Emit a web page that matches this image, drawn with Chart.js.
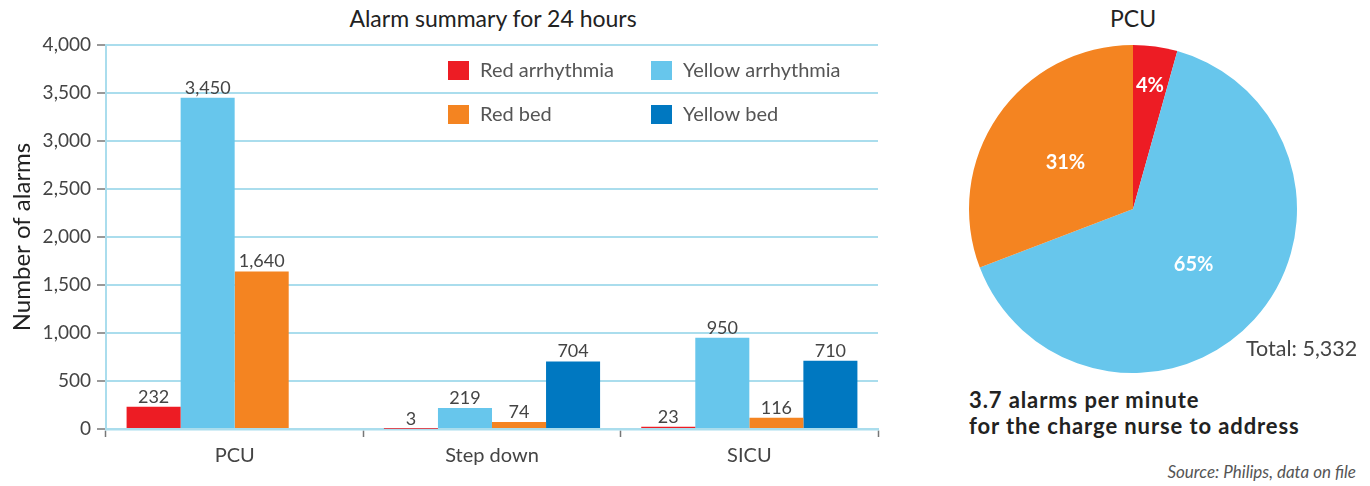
<!DOCTYPE html>
<html>
<head>
<meta charset="utf-8">
<script src="https://cdn.jsdelivr.net/npm/chart.js@4/dist/chart.umd.min.js"></script>
<style>
  body { margin: 0; background: #fff; font-family: Lato, "Open Sans", sans-serif; }
  .wrap { position: relative; width: 1370px; height: 486px; overflow: hidden; }
  .abs { position: absolute; white-space: nowrap; }
  #barBox { left: 0; top: 0; width: 900px; height: 486px; }
  #pieBox { left: 963px; top: 39px; width: 340px; height: 340px; }
  .title { font-size: 23px; color: #222; transform: translate(-50%, -50%); }
  .note { font-size: 22px; color: #222; font-weight: 700; letter-spacing: 0.9px; line-height: 26px; }
</style>
</head>
<body>
<div class="wrap">
  <div class="abs title" style="left:493px; top:18px;">Alarm summary for 24 hours</div>
  <div class="abs title" style="left:1133px; top:18px;">PCU</div>
  <div class="abs" id="barBox"><canvas id="bars"></canvas></div>
  <div class="abs" id="pieBox"><canvas id="pie"></canvas></div>
  <div class="abs" style="left:1246px; top:335px; font-size:21.5px; color:#444;">Total: 5,332</div>
  <div class="abs note" style="left:969px; top:387px;">3.7 alarms per minute<br>for the charge nurse to address</div>
  <div class="abs" style="right:14px; top:461px; font-size:17px; color:#555; font-style:italic;">Source: Philips, data on file</div>
</div>
<script>
const units = ['PCU', 'Step down', 'SICU'];
const seriesNames = ['Red arrhythmia', 'Yellow arrhythmia', 'Red bed', 'Yellow bed'];
const redArrhythmia = [232, 3, 23];
const yellowArrhythmia = [3450, 219, 950];
const redBed = [1640, 74, 116];
const yellowBed = [0, 704, 710];
const yTicks = [0, 500, 1000, 1500, 2000, 2500, 3000, 3500, 4000];
const seriesColors = ['#ED1C24', '#67C6EC', '#F48421', '#0078C1'];

// PCU breakdown for the pie (yellow bed is 0 there)
const pieValues = [redArrhythmia[0], yellowArrhythmia[0], redBed[0]];
const pieColors = seriesColors.slice(0, 3);

const fontFamily = 'Lato, "Open Sans", sans-serif';
const gridBlue = '#AADDED';
const tickGray = '#777';
const textGray = '#444';

const valueLabels = {
  id: 'valueLabels',
  afterDatasetsDraw(chart) {
    const {ctx} = chart;
    ctx.save();
    ctx.font = `18px ${fontFamily}`;
    ctx.fillStyle = textGray;
    ctx.textAlign = 'center';
    ctx.textBaseline = 'bottom';
    chart.data.datasets.forEach((ds, i) => {
      chart.getDatasetMeta(i).data.forEach((bar, j) => {
        const v = ds.data[j];
        if (!v) return;
        ctx.fillText(v.toLocaleString('en-US'), bar.x, bar.y - 1);
      });
    });
    ctx.restore();
  }
};

const boxLegend = {
  id: 'boxLegend',
  afterDraw(chart) {
    const {ctx} = chart;
    const colX = [448, 651];
    const rowY = [61, 105];
    ctx.save();
    ctx.font = `20px ${fontFamily}`;
    ctx.textBaseline = 'middle';
    chart.data.datasets.forEach((ds, i) => {
      const x = colX[i % 2];
      const y = rowY[Math.floor(i / 2)];
      ctx.fillStyle = ds.backgroundColor;
      ctx.fillRect(x, y, 21, 19);
      ctx.fillStyle = '#555';
      ctx.fillText(ds.label, x + 32, y + 10);
    });
    ctx.restore();
  }
};

new Chart(document.getElementById('bars'), {
  type: 'bar',
  data: {
    labels: units,
    datasets: [redArrhythmia, yellowArrhythmia, redBed, yellowBed].map((data, i) => ({
      label: seriesNames[i],
      data,
      backgroundColor: seriesColors[i],
      categoryPercentage: 0.84,
      barPercentage: 1,
    })),
  },
  options: {
    responsive: true,
    maintainAspectRatio: false,
    animation: false,
    layout: {padding: {top: 45, right: 22, bottom: 0, left: 0}},
    plugins: {legend: {display: false}, tooltip: {enabled: false}},
    scales: {
      x: {
        afterFit: scale => { scale.height = 57; },
        grid: {drawOnChartArea: false, offset: true, tickLength: 8, tickColor: tickGray, tickWidth: 1.5},
        border: {color: gridBlue, width: 2.5},
        ticks: {color: textGray, padding: 7, font: {family: fontFamily, size: 20}},
      },
      y: {
        min: 0,
        max: 4000,
        afterFit: scale => { scale.width = 106; },
        afterBuildTicks: scale => { scale.ticks = yTicks.map(value => ({value})); },
        grid: {color: gridBlue, lineWidth: 2, tickLength: 9, tickColor: tickGray, tickWidth: 1.5},
        border: {color: gridBlue, width: 2},
        ticks: {
          color: textGray,
          padding: 6,
          font: {family: fontFamily, size: 19},
          callback: v => v.toLocaleString('en-US'),
        },
        title: {
          display: true,
          text: 'Number of alarms',
          color: '#222',
          padding: {top: 8, bottom: 0},
          font: {family: fontFamily, size: 24},
        },
      },
    },
  },
  plugins: [valueLabels, boxLegend],
});

const pieLabels = {
  id: 'pieLabels',
  afterDatasetsDraw(chart) {
    const {ctx} = chart;
    const total = pieValues.reduce((a, b) => a + b, 0);
    ctx.save();
    ctx.font = `bold 20px ${fontFamily}`;
    ctx.fillStyle = '#fff';
    ctx.textAlign = 'center';
    ctx.textBaseline = 'middle';
    chart.getDatasetMeta(0).data.forEach((arc, i) => {
      const {x, y, startAngle, endAngle, outerRadius} = arc.getProps(['x', 'y', 'startAngle', 'endAngle', 'outerRadius']);
      const share = pieValues[i] / total;
      const mid = (startAngle + endAngle) / 2;
      const r = outerRadius * (share < 0.1 ? 0.76 : 0.5);
      ctx.fillText(Math.round(share * 100) + '%', x + Math.cos(mid) * r, y + Math.sin(mid) * r);
    });
    ctx.restore();
  }
};

new Chart(document.getElementById('pie'), {
  type: 'pie',
  data: {
    labels: seriesNames.slice(0, 3),
    datasets: [{data: pieValues, backgroundColor: pieColors, borderWidth: 0}],
  },
  options: {
    responsive: true,
    maintainAspectRatio: false,
    animation: false,
    layout: {padding: 6},
    plugins: {legend: {display: false}, tooltip: {enabled: false}},
  },
  plugins: [pieLabels],
});
</script>
</body>
</html>
